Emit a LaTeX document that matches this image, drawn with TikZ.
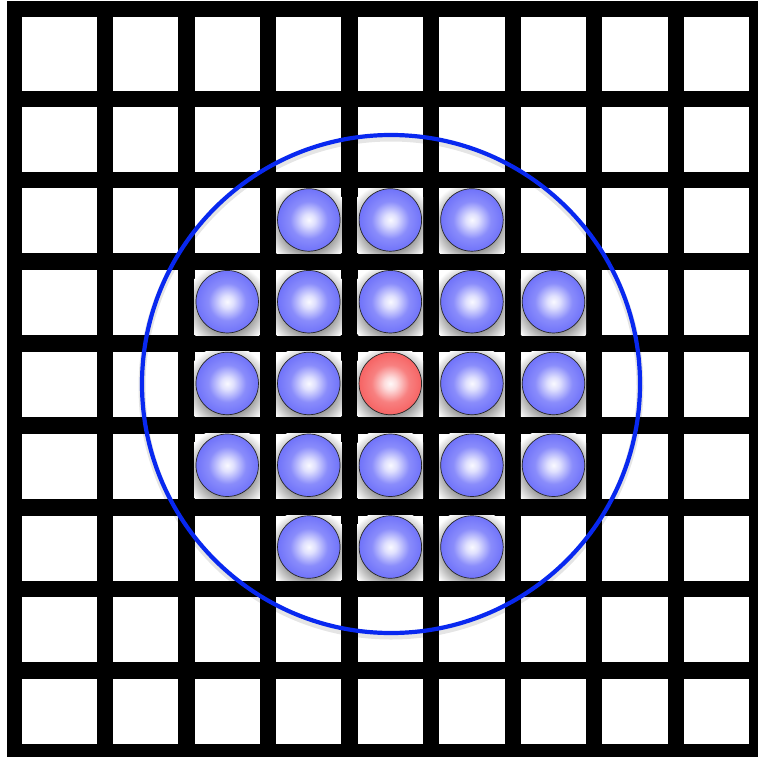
\documentclass[tikz,border=0pt]{standalone}
\definecolor{bblue}{RGB}{112,115,250}
\definecolor{bred}{RGB}{246,100,100}
\definecolor{ringblue}{RGB}{8,40,240}
\pgfdeclareradialshading{ballblue}{\pgfpoint{0bp}{0bp}}{color(0bp)=(white!96!bblue); color(5bp)=(white!78!bblue); color(15bp)=(bblue!82!white); color(25bp)=(bblue); color(50bp)=(bblue)}
\pgfdeclareradialshading{ballred}{\pgfpoint{0bp}{0bp}}{color(0bp)=(white!96!bred); color(5bp)=(white!78!bred); color(15bp)=(bred!82!white); color(25bp)=(bred); color(50bp)=(bred)}
\pgfdeclareradialshading{ballshadow}{\pgfpoint{0bp}{0bp}}{color(0bp)=(black!50); color(15bp)=(black!42); color(25bp)=(white); color(50bp)=(white)}
\begin{document}
\begin{tikzpicture}[x=1pt,y=-1pt,
  cellbox/.style={fill=white},
  gridbg/.style={fill=black},
  shadowdisc/.style={shading=ballshadow},
  blueball/.style={circle, draw=black!85, line width=0.7, minimum size=62.5, inner sep=0pt, shading=ballblue},
  redball/.style={blueball, shading=ballred},
  ringshadow/.style={draw=black, line width=7, opacity=0.10},
  ring/.style={draw=ringblue, line width=4.2}]
\useasboundingbox (0,0) rectangle (758,759);
\fill[white] (0,0) rectangle (758,759);
% grid
\fill[gridbg] (7,1) rectangle (758,757);
\foreach \c in {0,...,8}{
  \foreach \r in {0,...,8}{
    \ifnum\c=0 \def\L{22}\def\R{97}\else
      \pgfmathsetmacro\L{113+(\c-1)*81.57}\pgfmathsetmacro\R{\L+65.3}\fi
    \ifnum\r=0 \def\T{16.7}\def\B{90.7}\else
      \pgfmathsetmacro\T{106.7+(\r-1)*81.76}\pgfmathsetmacro\B{\T+65}\fi
    \fill[cellbox] (\L,\T) rectangle (\R,\B);
  }
}
% ball shadows
\foreach \r/\cols in {2/{3,4,5},3/{2,3,4,5,6},4/{2,3,4,5,6},5/{2,3,4,5,6},6/{3,4,5}}{
  \foreach \c in \cols{
    \pgfmathsetmacro\L{113+(\c-1)*81.57}\pgfmathsetmacro\R{\L+65.3}
    \pgfmathsetmacro\T{106.7+(\r-1)*81.76}\pgfmathsetmacro\B{\T+65}
    \begin{scope}
      \clip (\L,\T) rectangle (\R,\B);
      \shade[shadowdisc] ({(\L+\R)/2},{(\T+\B)/2+4}) circle (43);
    \end{scope}
  }
}
% ring
\draw[ringshadow] (391,387) circle (249);
\draw[ring] (391,384) circle (249);
% balls
\foreach \r/\cols in {2/{3,4,5},3/{2,3,4,5,6},4/{2,3,5,6},5/{2,3,4,5,6},6/{3,4,5}}{
  \foreach \c in \cols{
    \pgfmathsetmacro\L{113+(\c-1)*81.57}\pgfmathsetmacro\R{\L+65.3}
    \pgfmathsetmacro\T{106.7+(\r-1)*81.76}\pgfmathsetmacro\B{\T+65}
    \node[blueball] (b-\c-\r) at ({(\L+\R)/2},{(\T+\B)/2-1}) {};
  }
}
\node[redball] (center) at (390.3,383.5) {};
\end{tikzpicture}
\end{document}
